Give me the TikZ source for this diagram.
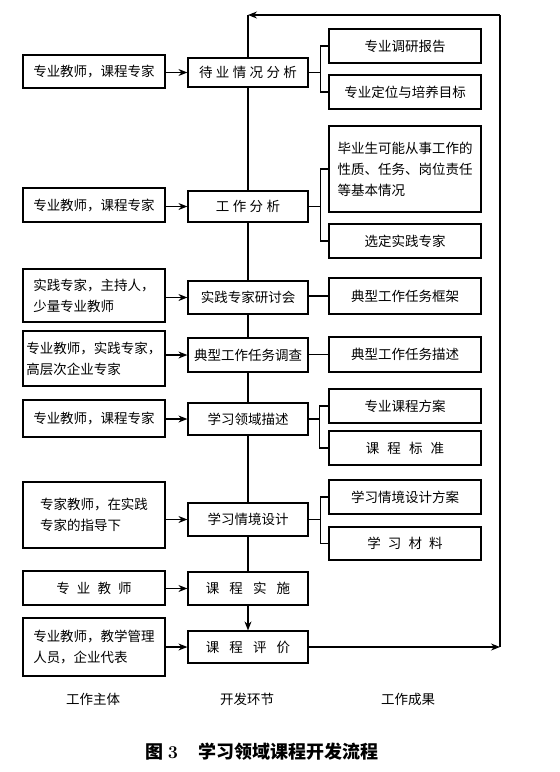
\documentclass[tikz,border=0pt]{standalone}
\usepackage{fontspec}
\newfontfamily\cjk{Noto Sans CJK SC}
\usetikzlibrary{arrows.meta}
\newcommand\zg[1][3.4pt]{\hspace{#1}}
\begin{document}
\begin{tikzpicture}[x=1pt,y=-1pt,
  box/.style={draw, line width=1.2pt, inner sep=0pt,
    font=\cjk\fontsize{13.5}{21}\selectfont, align=center},
  lbox/.style={box, minimum width=142pt},
  mbox/.style={box, minimum width=120pt},
  rbox/.style={box, minimum width=152pt},
  lab/.style={font=\cjk\fontsize{13.5}{16}\selectfont},
  ln/.style={line width=1.1pt},
  arr/.style={line width=1.1pt, -{Stealth[length=9pt,width=7pt,inset=3pt]}}]
\useasboundingbox (0,0) rectangle (560,772);
% row 1
\node[lbox, minimum height=33pt] (l1) at (94,71.5) {专业教师，课程专家};
\node[mbox, minimum height=29pt] (m1) at (248,72.5) {待\zg 业\zg 情\zg 况\zg 分\zg 析};
\node[rbox, minimum height=34pt] (r1a) at (405,46) {专业调研报告};
\node[rbox, minimum height=34pt] (r1b) at (405,92) {专业定位与培养目标};
% row 2
\node[lbox, minimum height=34pt] (l2) at (94,205) {专业教师，课程专家};
\node[mbox, minimum height=31pt] (m2) at (248,206.5) {工\zg 作\zg 分\zg 析};
\node[rbox, minimum height=86pt, align=left] (r2a) at (405,169) {毕业生可能从事工作的\\性质、任务、岗位责任\\等基本情况};
\node[rbox, minimum height=34pt] (r2b) at (405,241) {选定实践专家};
% row 3
\node[lbox, minimum height=53pt, align=left] (l3) at (94,295.5) {实践专家，主持人，\\少量专业教师};
\node[mbox, minimum height=33pt] (m3) at (248,297.5) {实践专家研讨会};
\node[rbox, minimum height=36pt] (r3) at (405,296) {典型工作任务框架};
% row 4
\node[lbox, minimum height=55pt, align=left] (l4) at (94,358.5) {专业教师，实践专家，\\高层次企业专家};
\node[mbox, minimum height=34pt] (m4) at (248,355) {典型工作任务调查};
\node[rbox, minimum height=35pt] (r4) at (405,354.5) {典型工作任务描述};
% row 5
\node[lbox, minimum height=37pt] (l5) at (94,418.5) {专业教师，课程专家};
\node[mbox, minimum height=32pt] (m5) at (248,419) {学习领域描述};
\node[rbox, minimum height=34pt] (r5a) at (405,406) {专业课程方案};
\node[rbox, minimum height=34pt] (r5b) at (405,448) {课\zg[5pt] 程\zg[5pt] 标\zg[5pt] 准};
% row 6
\node[lbox, minimum height=66pt, align=left] (l6) at (94,515) {专家教师，在实践\\专家的指导下};
\node[mbox, minimum height=33pt] (m6) at (248,519.5) {学习情境设计};
\node[rbox, minimum height=34pt] (r6a) at (405,497) {学习情境设计方案};
\node[rbox, minimum height=33pt] (r6b) at (405,543.5) {学\zg[4pt] 习\zg[4pt] 材\zg[4pt] 料};
% row 7
\node[lbox, minimum height=34pt] (l7) at (94,588) {专\zg[4pt] 业\zg[4pt] 教\zg[4pt] 师};
\node[mbox, minimum height=33pt] (m7) at (248,588.5) {课\zg[7pt] 程\zg[7pt] 实\zg[7pt] 施};
% row 8
\node[lbox, minimum height=58pt, align=left] (l8) at (94,647) {专业教师，教学管理\\人员，企业代表};
\node[mbox, minimum height=32pt] (m8) at (248,647) {课\zg[7pt] 程\zg[7pt] 评\zg[7pt] 价};
% column labels and caption
\node[lab] (h1) at (93,699) {工作主体};
\node[lab] (h2) at (247,699) {开发环节};
\node[lab] (h3) at (408,699) {工作成果};
\node[font=\cjk\bfseries\fontsize{18}{22}\selectfont] (cap) at (262,752) {图\hspace{4pt}{\rmfamily\bfseries 3}\hspace{20pt}学习领域课程开发流程};
% left arrows
\foreach \i in {1,...,8} {\draw[arr] (l\i.east |- m\i.west) -- (m\i.west);}
% centre spine
\draw[ln] (m1) -- (m2);
\draw[ln] (m2) -- (m3);
\draw[ln] (m3) -- (m4);
\draw[ln] (m4) -- (m5);
\draw[ln] (m5) -- (m6);
\draw[ln] (m6) -- (m7);
\draw[arr] (m7) -- (m8);
% outputs
\draw[ln] (m1.east) -- ++(12,0) coordinate (b1);
\draw[ln] (r1a.west) -| (b1) |- (r1b.west);
\draw[ln] (m2.east) -- ++(12,0) coordinate (b2);
\draw[ln] (r2a.west) -| (b2) |- (r2b.west);
\draw[ln] (m3.east |- r3.west) -- (r3.west);
\draw[ln] (m4.east |- r4.west) -- (r4.west);
\draw[ln] (m5.east) -- ++(11,0) coordinate (b5);
\draw[ln] (r5a.west) -| (b5) |- (r5b.west);
\draw[ln] (m6.east) -- ++(12,0) coordinate (b6);
\draw[ln] (r6a.west) -| (b6) |- (r6b.west);
% feedback loop
\coordinate (cB) at (500,647);
\coordinate (cT) at (500,15);
\coordinate (cL) at (248,15);
\draw[arr] (m8.east) -- (cB);
\draw[ln] (cB) -- (cT);
\draw[arr] (cT) -- (cL);
\draw[ln] (cL) -- (m1.north);
\end{tikzpicture}
\end{document}
